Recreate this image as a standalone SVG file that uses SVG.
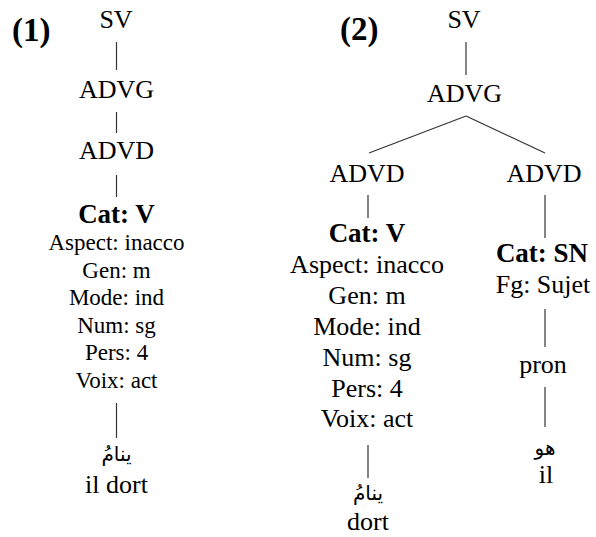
<svg xmlns="http://www.w3.org/2000/svg" width="596" height="537" viewBox="0 0 596 537">
<style>
.t{fill:#000;text-anchor:middle}
.n{font-size:26px}
.b{font-weight:bold;font-size:27px}
.f1{font-size:23px}
.f2{font-size:26px}
.lab{font-weight:bold;font-size:33px;text-anchor:start}
.ar{font-family:'DejaVu Sans',sans-serif;font-size:20px;fill:#000;text-anchor:middle}
.e{stroke:#333;stroke-width:1.2;fill:none}
</style>
<rect width="596" height="537" fill="#fff"/>
<g font-family="Liberation Serif, Tinos, Noto Serif, FreeSerif, DejaVu Serif, Times, serif">
<text class="t lab" x="12" y="41">(1)</text>
<text class="t lab" x="340" y="40">(2)</text>
<g id="connectors">
<line class="e" x1="116.5" y1="42" x2="116.5" y2="70"/>
<line class="e" x1="116.5" y1="112" x2="116.5" y2="133"/>
<line class="e" x1="116.5" y1="175" x2="116.5" y2="197"/>
<line class="e" x1="116.5" y1="403" x2="116.5" y2="438"/>
<line class="e" x1="466" y1="42" x2="466" y2="75"/>
<line class="e" x1="466" y1="116" x2="369" y2="153"/>
<line class="e" x1="466" y1="116" x2="545" y2="153"/>
<line class="e" x1="368" y1="195" x2="368" y2="218"/>
<line class="e" x1="545" y1="195" x2="545" y2="238"/>
<line class="e" x1="368" y1="445" x2="368" y2="478"/>
<line class="e" x1="545" y1="309" x2="545" y2="347"/>
<line class="e" x1="545" y1="387" x2="545" y2="427"/>
</g>
<g id="t1-sv"><text class="t n" x="116" y="28">SV</text></g>
<g id="t1-advg"><text class="t n" x="116.5" y="98">ADVG</text></g>
<g id="t1-advd"><text class="t n" x="116.5" y="159">ADVD</text></g>
<g id="t1-v">
<text class="t b" x="116.5" y="223">Cat: V</text>
<text class="t f1" x="116.5" y="250">Aspect: inacco</text>
<text class="t f1" x="116.5" y="277.5">Gen: m</text>
<text class="t f1" x="116.5" y="305">Mode: ind</text>
<text class="t f1" x="116.5" y="332.5">Num: sg</text>
<text class="t f1" x="116.5" y="360">Pers: 4</text>
<text class="t f1" x="116.5" y="387.5">Voix: act</text>
</g>
<g id="t1-word">
<text class="ar" x="116.5" y="461">ينامُ</text>
<text class="t n" x="116.5" y="493">il dort</text>
</g>
<g id="t2-sv"><text class="t n" x="464" y="28">SV</text></g>
<g id="t2-advg"><text class="t n" x="464.5" y="102">ADVG</text></g>
<g id="t2-advd1"><text class="t n" x="367" y="182">ADVD</text></g>
<g id="t2-advd2"><text class="t n" x="544" y="182">ADVD</text></g>
<g id="t2-v">
<text class="t b" x="367" y="242">Cat: V</text>
<text class="t f2" x="367" y="273">Aspect: inacco</text>
<text class="t f2" x="367" y="304">Gen: m</text>
<text class="t f2" x="367" y="335">Mode: ind</text>
<text class="t f2" x="367" y="366">Num: sg</text>
<text class="t f2" x="367" y="397">Pers: 4</text>
<text class="t f2" x="367" y="427">Voix: act</text>
</g>
<g id="t2-word1">
<text class="ar" x="368" y="500">ينامُ</text>
<text class="t n" x="368" y="530">dort</text>
</g>
<g id="t2-sn">
<text class="t b" x="542" y="262">Cat: SN</text>
<text class="t f2" x="543" y="293">Fg: Sujet</text>
</g>
<g id="t2-pron"><text class="t n" x="543" y="373">pron</text></g>
<g id="t2-word2">
<text class="ar" x="545" y="455">هو</text>
<text class="t n" x="546" y="483">il</text>
</g>
</g>
</svg>
